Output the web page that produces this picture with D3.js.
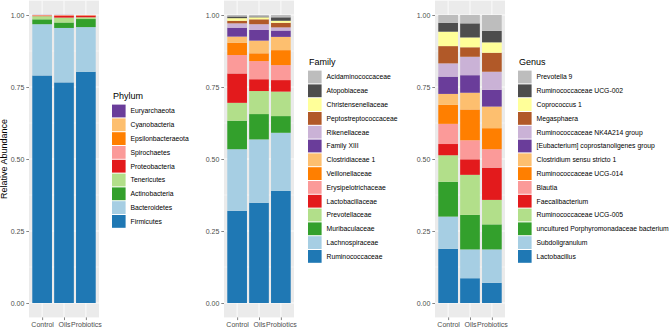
<!DOCTYPE html>
<html>
<head>
<meta charset="utf-8">
<script src="https://cdn.jsdelivr.net/npm/d3@7"></script>
<style>
  body { margin: 0; background: #fff; }
  svg { display: block; font-family: "Liberation Sans", Arial, sans-serif; }
</style>
</head>
<body>
<div id="chart"></div>
<script>
// Groups on the x axis
const groups = ['Control', 'Oils', 'Probiotics'];

// Paired palette, bottom of stack first
const paired = ['#1F78B4', '#A6CEE3', '#33A02C', '#B2DF8A', '#E31A1C', '#FB9A99',
  '#FF7F00', '#FDBF6F', '#6A3D9A', '#CAB2D6', '#B15928', '#FFFF99', '#4D4D4D', '#BDBDBD'];

// Phylum (bottom -> top)
const phylumTaxa = ['Firmicutes', 'Bacteroidetes', 'Actinobacteria', 'Tenericutes',
  'Proteobacteria', 'Spirochaetes', 'Epsilonbacteraeota', 'Cyanobacteria', 'Euryarchaeota'];
const phylumColors = ['#1F78B4', '#A6CEE3', '#33A02C', '#B2DF8A', '#E31A1C', '#FB9A99',
  '#FF7F00', '#FDBF6F', '#6A3D9A'];
const phylumControl = [0.790, 0.178, 0.017, 0.011, 0.002, 0.001, 0.0005, 0.0005, 0.0005];
const phylumOils = [0.766, 0.189, 0.019, 0.017, 0.007, 0.001, 0.0005, 0.0005, 0.0005];
const phylumProbiotics = [0.803, 0.155, 0.028, 0.006, 0.006, 0.001, 0.0005, 0.0005, 0.0001];

// Family (bottom -> top)
const familyTaxa = ['Ruminococcaceae', 'Lachnospiraceae', 'Muribaculaceae', 'Prevotellaceae',
  'Lactobacillaceae', 'Erysipelotrichaceae', 'Veillonellaceae', 'Clostridiaceae 1', 'Family XIII',
  'Rikenellaceae', 'Peptostreptococcaceae', 'Christensenellaceae', 'Atopobiaceae', 'Acidaminococcaceae'];
const familyControl = [0.320, 0.214, 0.099, 0.062, 0.102, 0.064, 0.043, 0.021, 0.031, 0.015, 0.009, 0.009, 0.006, 0.005];
const familyOils = [0.348, 0.220, 0.088, 0.080, 0.041, 0.063, 0.027, 0.044, 0.037, 0.020, 0.017, 0.007, 0.003, 0.005];
const familyProbiotics = [0.389, 0.202, 0.058, 0.085, 0.040, 0.052, 0.052, 0.046, 0.022, 0.011, 0.016, 0.007, 0.012, 0.008];

// Genus (bottom -> top)
const genusTaxa = ['Lactobacillus', 'Subdoligranulum', 'uncultured Porphyromonadaceae bacterium',
  'Ruminococcaceae UCG-005', 'Faecalibacterium', 'Blautia', 'Ruminococcaceae UCG-014',
  'Clostridium sensu stricto 1', '[Eubacterium] coprostanoligenes group',
  'Ruminococcaceae NK4A214 group', 'Megasphaera', 'Coprococcus 1', 'Ruminococcaceae UCG-002', 'Prevotella 9'];
const genusControl = [0.188, 0.112, 0.121, 0.092, 0.039, 0.070, 0.066, 0.038, 0.060, 0.046, 0.060, 0.050, 0.031, 0.027];
const genusOils = [0.086, 0.100, 0.120, 0.139, 0.054, 0.066, 0.107, 0.058, 0.061, 0.064, 0.033, 0.034, 0.049, 0.029];
const genusProbiotics = [0.070, 0.116, 0.087, 0.085, 0.112, 0.064, 0.073, 0.075, 0.058, 0.063, 0.066, 0.036, 0.040, 0.055];

const width = 671, height = 328;
const svg = d3.select('#chart').append('svg')
  .attr('width', width)
  .attr('height', height);

const y = d3.scaleLinear().domain([-0.05, 1.05]).range([317.4, 0.6]);

const panels = [
  { title: 'Phylum', taxa: phylumTaxa, colors: phylumColors,
    values: [phylumControl, phylumOils, phylumProbiotics],
    x0: 29, x1: 99, legendX: 112, legendTitleY: 95, yTitle: true },
  { title: 'Family', taxa: familyTaxa, colors: paired,
    values: [familyControl, familyOils, familyProbiotics],
    x0: 224, x1: 294, legendX: 308, legendTitleY: 61 },
  { title: 'Genus', taxa: genusTaxa, colors: paired,
    values: [genusControl, genusOils, genusProbiotics],
    x0: 435, x1: 505, legendX: 518, legendTitleY: 61 }
];

panels.forEach(p => drawPanel(p));

function drawPanel(p) {
  const x = d3.scalePoint().domain(groups).range([p.x0, p.x1]).padding(0.6);
  const bw = x.step() * 0.9;
  const g = svg.append('g');

  // panel background + grid
  g.append('rect')
    .attr('x', p.x0).attr('y', y(1.05))
    .attr('width', p.x1 - p.x0).attr('height', y(-0.05) - y(1.05))
    .attr('fill', '#EBEBEB');

  const minor = d3.range(-0.125, 1.1, 0.25).filter(v => v > -0.05 && v < 1.05);
  g.selectAll('.minor').data(minor).enter().append('line')
    .attr('x1', p.x0).attr('x2', p.x1)
    .attr('y1', d => y(d)).attr('y2', d => y(d))
    .attr('stroke', '#fff').attr('stroke-width', 0.4);

  const major = [0, 0.25, 0.5, 0.75, 1];
  g.selectAll('.major').data(major).enter().append('line')
    .attr('x1', p.x0).attr('x2', p.x1)
    .attr('y1', d => y(d)).attr('y2', d => y(d))
    .attr('stroke', '#fff').attr('stroke-width', 0.8);

  g.selectAll('.vgrid').data(groups).enter().append('line')
    .attr('x1', d => x(d)).attr('x2', d => x(d))
    .attr('y1', y(1.05)).attr('y2', y(-0.05))
    .attr('stroke', '#fff').attr('stroke-width', 0.8);

  // stacked bars
  groups.forEach((grp, gi) => {
    let acc = 0;
    p.values[gi].forEach((v, ti) => {
      g.append('rect')
        .attr('x', x(grp) - bw / 2)
        .attr('y', y(acc + v))
        .attr('width', bw)
        .attr('height', y(acc) - y(acc + v))
        .attr('fill', p.colors[ti]);
      acc += v;
    });
  });

  // y axis
  const yAxis = g.append('g')
    .attr('transform', `translate(${p.x0},0)`)
    .call(d3.axisLeft(y).tickValues(major).tickFormat(d3.format('.2f')).tickSize(2.7).tickPadding(2));
  yAxis.select('.domain').remove();
  yAxis.selectAll('line').attr('stroke', '#333').attr('stroke-width', 0.6);
  yAxis.selectAll('text').attr('fill', '#4D4D4D').attr('font-size', '7px')
    .style('font-family', '"Liberation Sans", Arial, sans-serif');

  // x axis
  const xAxis = g.append('g')
    .attr('transform', `translate(0,${y(-0.05)})`)
    .call(d3.axisBottom(x).tickSize(2.7).tickPadding(1.5));
  xAxis.select('.domain').remove();
  xAxis.selectAll('line').attr('stroke', '#333').attr('stroke-width', 0.6);
  xAxis.selectAll('text').attr('fill', '#4D4D4D').attr('font-size', '7px')
    .style('font-family', '"Liberation Sans", Arial, sans-serif');

  if (p.yTitle) {
    svg.append('text')
      .attr('transform', `translate(6.5,${y(0.5)}) rotate(-90)`)
      .attr('text-anchor', 'middle')
      .attr('font-size', '9px')
      .attr('fill', '#000')
      .text('Relative Abundance');
  }

  // legend (top of stack first)
  const lg = svg.append('g');
  lg.append('text')
    .attr('x', p.legendX + 1)
    .attr('y', p.legendTitleY + 3.5)
    .attr('font-size', '9px')
    .attr('fill', '#000')
    .text(p.title);

  const items = p.taxa.map((t, i) => ({ name: t, color: p.colors[i] })).reverse();
  const step = 13.8;
  const firstY = p.legendTitleY + 16;
  items.forEach((d, i) => {
    const cy = firstY + i * step;
    lg.append('rect')
      .attr('x', p.legendX)
      .attr('y', cy - 6.4)
      .attr('width', 13.6)
      .attr('height', 12.8)
      .attr('fill', d.color);
    lg.append('text')
      .attr('x', p.legendX + 18.5)
      .attr('y', cy + 2.4)
      .attr('font-size', '6.8px')
      .attr('fill', '#000')
      .text(d.name);
  });
}
</script>
</body>
</html>
